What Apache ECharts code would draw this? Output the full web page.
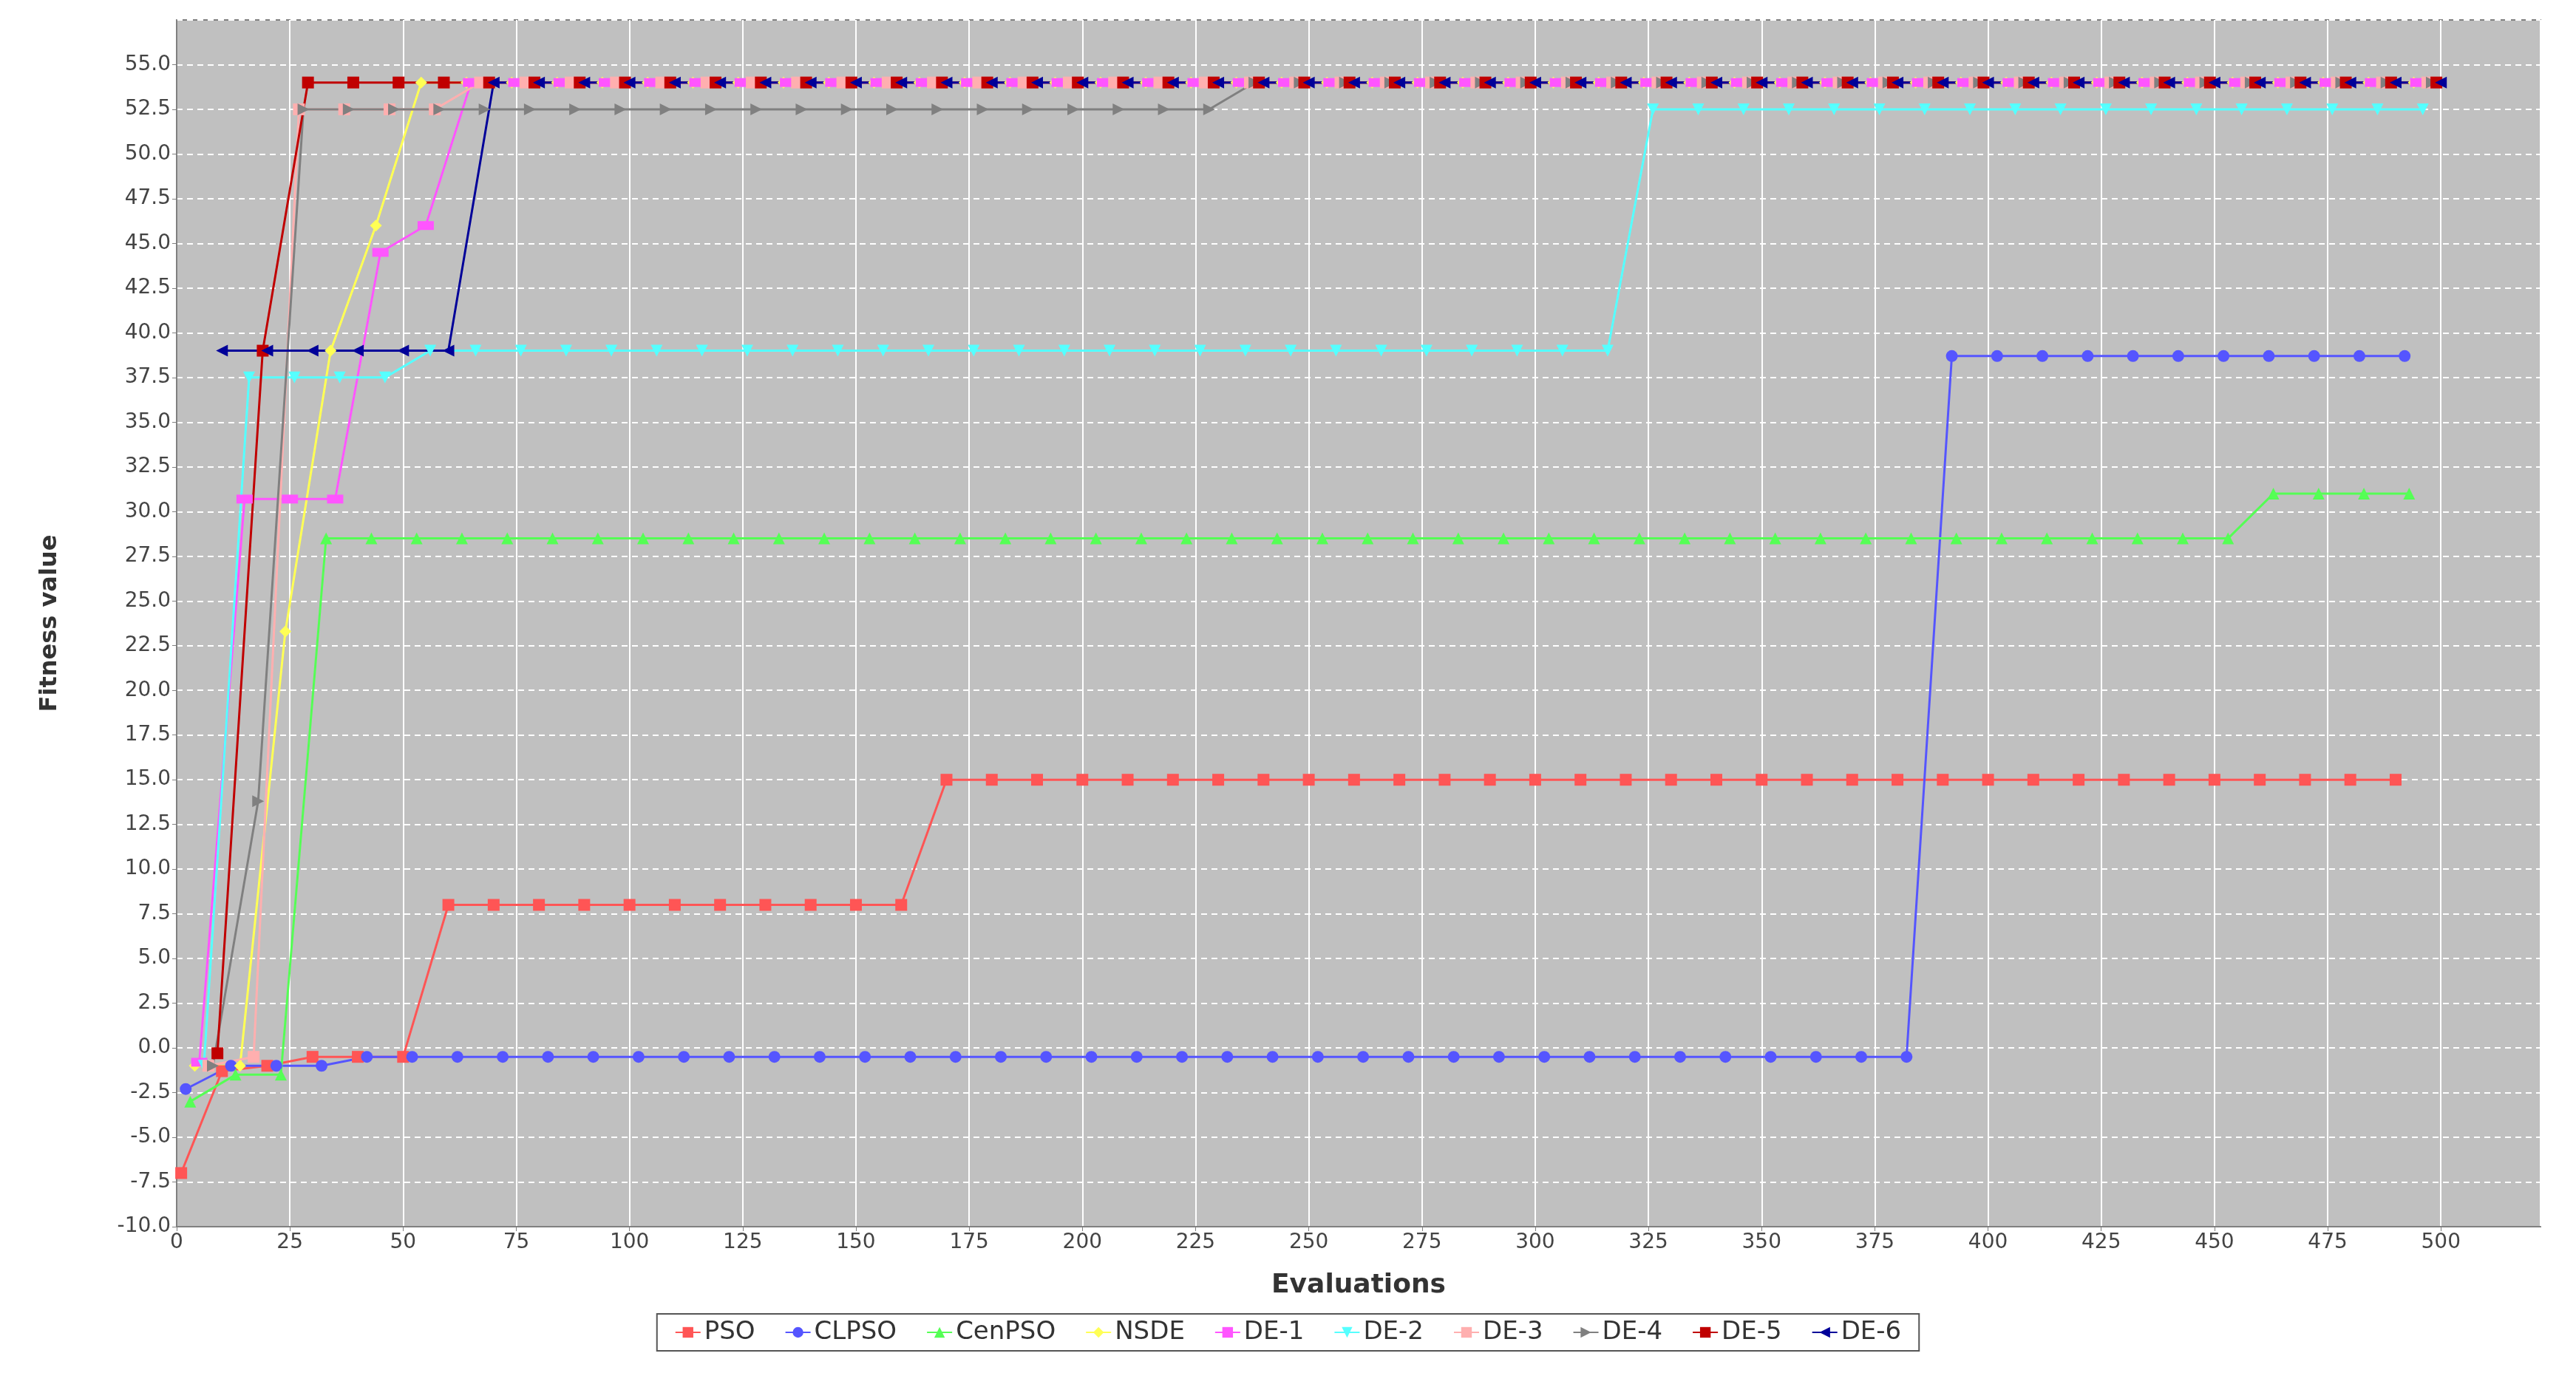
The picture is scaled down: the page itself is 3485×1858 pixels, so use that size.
<!DOCTYPE html>
<html>
<head>
<meta charset="utf-8">
<script src="https://cdn.jsdelivr.net/npm/echarts@6/dist/echarts.min.js"></script>
<style>html,body{margin:0;padding:0;background:#fff}#chart{width:3485px;height:1858px}</style>
</head>
<body>
<div id="chart"></div>
<script>
// evaluations / fitness values
var psoX = [1,10,20,30,40,50,60,70,80,90,100,110,120,130,140,150,160,170,180,190,200,210,220,230,240,250,260,270,280,290,300,310,320,330,340,350,360,370,380,390,400,410,420,430,440,450,460,470,480,490];
var psoY = [-7,-1.3,-1,-0.5,-0.5,-0.5,8,8,8,8,8,8,8,8,8,8,8,15,15,15,15,15,15,15,15,15,15,15,15,15,15,15,15,15,15,15,15,15,15,15,15,15,15,15,15,15,15,15,15,15];
var clpsoX = [2,12,22,32,42,52,62,72,82,92,102,112,122,132,142,152,162,172,182,192,202,212,222,232,242,252,262,272,282,292,302,312,322,332,342,352,362,372,382,392,402,412,422,432,442,452,462,472,482,492];
var clpsoY = [-2.3,-1,-1,-1,-0.5,-0.5,-0.5,-0.5,-0.5,-0.5,-0.5,-0.5,-0.5,-0.5,-0.5,-0.5,-0.5,-0.5,-0.5,-0.5,-0.5,-0.5,-0.5,-0.5,-0.5,-0.5,-0.5,-0.5,-0.5,-0.5,-0.5,-0.5,-0.5,-0.5,-0.5,-0.5,-0.5,-0.5,-0.5,38.7,38.7,38.7,38.7,38.7,38.7,38.7,38.7,38.7,38.7,38.7];
var cenX = [3,13,23,33,43,53,63,73,83,93,103,113,123,133,143,153,163,173,183,193,203,213,223,233,243,253,263,273,283,293,303,313,323,333,343,353,363,373,383,393,403,413,423,433,443,453,463,473,483,493];
var cenY = [-3,-1.5,-1.5,28.5,28.5,28.5,28.5,28.5,28.5,28.5,28.5,28.5,28.5,28.5,28.5,28.5,28.5,28.5,28.5,28.5,28.5,28.5,28.5,28.5,28.5,28.5,28.5,28.5,28.5,28.5,28.5,28.5,28.5,28.5,28.5,28.5,28.5,28.5,28.5,28.5,28.5,28.5,28.5,28.5,28.5,28.5,31,31,31,31];
var nsdeX = [4,14,24,34,44,54,64,74,84,94,104,114,124,134,144,154,164,174,184,194,204,214,224,234,244,254,264,274,284,294,304,314,324,334,344,354,364,374,384,394,404,414,424,434,444,454,464,474,484,494];
var nsdeY = [-1,-1,23.3,39,46,54,54,54,54,54,54,54,54,54,54,54,54,54,54,54,54,54,54,54,54,54,54,54,54,54,54,54,54,54,54,54,54,54,54,54,54,54,54,54,54,54,54,54,54,54];
var de1X = [5,15,25,35,45,55,65,75,85,95,105,115,125,135,145,155,165,175,185,195,205,215,225,235,245,255,265,275,285,295,305,315,325,335,345,355,365,375,385,395,405,415,425,435,445,455,465,475,485,495];
var de1Y = [-0.8,30.7,30.7,30.7,44.5,46,54,54,54,54,54,54,54,54,54,54,54,54,54,54,54,54,54,54,54,54,54,54,54,54,54,54,54,54,54,54,54,54,54,54,54,54,54,54,54,54,54,54,54,54];
var de2X = [6,16,26,36,46,56,66,76,86,96,106,116,126,136,146,156,166,176,186,196,206,216,226,236,246,256,266,276,286,296,306,316,326,336,346,356,366,376,386,396,406,416,426,436,446,456,466,476,486,496];
var de2Y = [-1,37.5,37.5,37.5,37.5,39,39,39,39,39,39,39,39,39,39,39,39,39,39,39,39,39,39,39,39,39,39,39,39,39,39,39,52.5,52.5,52.5,52.5,52.5,52.5,52.5,52.5,52.5,52.5,52.5,52.5,52.5,52.5,52.5,52.5,52.5,52.5];
var de3X = [7,17,27,37,47,57,67,77,87,97,107,117,127,137,147,157,167,177,187,197,207,217,227,237,247,257,267,277,287,297,307,317,327,337,347,357,367,377,387,397,407,417,427,437,447,457,467,477,487,497];
var de3Y = [-1,-0.5,52.5,52.5,52.5,52.5,54,54,54,54,54,54,54,54,54,54,54,54,54,54,54,54,54,54,54,54,54,54,54,54,54,54,54,54,54,54,54,54,54,54,54,54,54,54,54,54,54,54,54,54];
var de4X = [8,18,28,38,48,58,68,78,88,98,108,118,128,138,148,158,168,178,188,198,208,218,228,238,248,258,268,278,288,298,308,318,328,338,348,358,368,378,388,398,408,418,428,438,448,458,468,478,488,498];
var de4Y = [-1,13.8,52.5,52.5,52.5,52.5,52.5,52.5,52.5,52.5,52.5,52.5,52.5,52.5,52.5,52.5,52.5,52.5,52.5,52.5,52.5,52.5,52.5,54,54,54,54,54,54,54,54,54,54,54,54,54,54,54,54,54,54,54,54,54,54,54,54,54,54,54];
var de5X = [9,19,29,39,49,59,69,79,89,99,109,119,129,139,149,159,169,179,189,199,209,219,229,239,249,259,269,279,289,299,309,319,329,339,349,359,369,379,389,399,409,419,429,439,449,459,469,479,489,499];
var de5Y = [-0.3,39,54,54,54,54,54,54,54,54,54,54,54,54,54,54,54,54,54,54,54,54,54,54,54,54,54,54,54,54,54,54,54,54,54,54,54,54,54,54,54,54,54,54,54,54,54,54,54,54];
var de6X = [10,20,30,40,50,60,70,80,90,100,110,120,130,140,150,160,170,180,190,200,210,220,230,240,250,260,270,280,290,300,310,320,330,340,350,360,370,380,390,400,410,420,430,440,450,460,470,480,490,500];
var de6Y = [39,39,39,39,39,39,54,54,54,54,54,54,54,54,54,54,54,54,54,54,54,54,54,54,54,54,54,54,54,54,54,54,54,54,54,54,54,54,54,54,54,54,54,54,54,54,54,54,54,54];

var names = ['PSO','CLPSO','CenPSO','NSDE','DE-1','DE-2','DE-3','DE-4','DE-5','DE-6'];
var colors = ['#ff5555','#5555ff','#55ff55','#ffff55','#ff55ff','#55ffff','#ffafaf','#808080','#c00000','#000099'];
var symbols = ['rect','circle','triangle','diamond','rect','triangle','rect','triangle','rect','triangle'];
var rotates = [0,0,0,0,0,180,0,-90,0,90];
var xs = [psoX,clpsoX,cenX,nsdeX,de1X,de2X,de3X,de4X,de5X,de6X];
var ys = [psoY,clpsoY,cenY,nsdeY,de1Y,de2Y,de3Y,de4Y,de5Y,de6Y];

function pairs(a,b){
    var out = [];
    for (var i=0;i<a.length;i++) out.push([a[i],b[i]]);
    return out;
}

var series = [];
for (var i=0;i<names.length;i++){
    series.push({
        name: names[i], type: 'line', data: pairs(xs[i],ys[i]),
        symbol: symbols[i], symbolRotate: rotates[i],
        symbolSize: i==4 ? [22,12] : 16,
        lineStyle: {color: colors[i], width: 3},
        itemStyle: {color: colors[i]},
        animation: false
    });
}

var chart = echarts.init(document.getElementById('chart'));
chart.setOption({
    backgroundColor: '#fff',
    color: colors,
    grid: {left: 239, right: 48, top: 27, bottom: 198, show: true, backgroundColor: '#c0c0c0', borderColor: '#808080', borderWidth: 2},
    xAxis: {
        type: 'value', min: 0, max: 522, interval: 25,
        name: 'Evaluations', nameLocation: 'middle', nameGap: 62,
        nameTextStyle: {fontSize: 36, fontWeight: 'bold', color: '#333', fontFamily: 'DejaVu Sans'},
        axisLine: {onZero: false, lineStyle: {color: '#808080', width: 2}},
        axisTick: {show: true, length: 6, lineStyle: {color: '#808080'}},
        axisLabel: {fontSize: 28, color: '#444', fontFamily: 'DejaVu Sans', showMaxLabel: false,
            formatter: function(v){ return v % 25 === 0 ? String(v) : ''; }},
        splitLine: {lineStyle: {color: '#ffffff', width: 2}}
    },
    yAxis: {
        type: 'value', min: -10, max: 57.5, interval: 2.5,
        name: 'Fitness value', nameLocation: 'middle', nameGap: 155,
        nameTextStyle: {fontSize: 32, fontWeight: 'bold', color: '#333', fontFamily: 'DejaVu Sans'},
        axisLine: {show: true, onZero: false, lineStyle: {color: '#808080', width: 2}},
        axisTick: {show: true, length: 6, lineStyle: {color: '#808080'}},
        axisLabel: {fontSize: 28, color: '#444', fontFamily: 'DejaVu Sans', showMaxLabel: false,
            formatter: function(v){ return v.toFixed(1); }},
        splitLine: {lineStyle: {color: '#ffffff', width: 2, type: [8,6]}}
    },
    legend: {
        data: names, bottom: 30, left: 'center',
        itemWidth: 34, itemHeight: 18, itemGap: 40,
        textStyle: {fontSize: 34, color: '#333', fontFamily: 'DejaVu Sans'},
        borderColor: '#555', borderWidth: 2, padding: [8,24]
    },
    series: series
});
</script>
</body>
</html>
